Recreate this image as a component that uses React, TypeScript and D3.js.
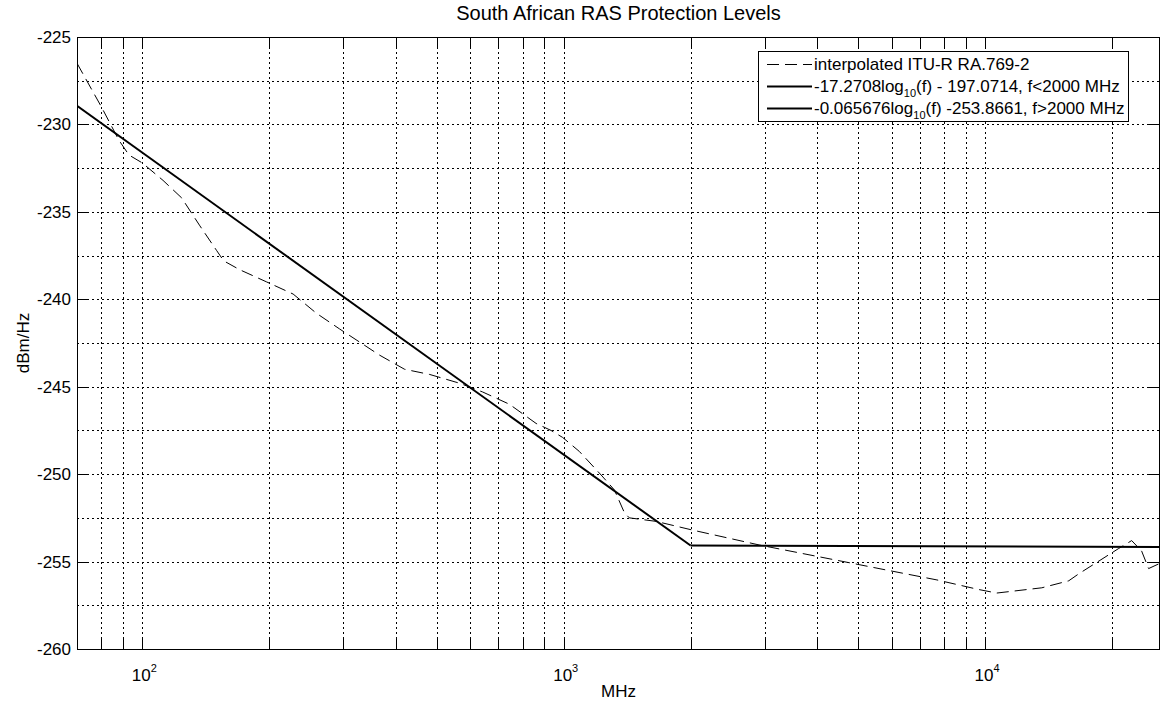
import React, { useEffect, useRef } from "react";
import * as d3 from "d3";

// interpolated ITU-R RA.769-2 curve
const ituFreq = [70, 80, 88, 93, 100, 112, 124, 137, 150, 156, 170, 197, 228, 259, 294, 366, 419, 481, 566, 642, 743, 860, 933, 994, 1089, 1227, 1319, 1393, 1431, 1656, 2022, 2909, 3618, 5600, 7685, 9661, 10660, 13630, 15790, 16680, 20750, 22270, 23520, 24430, 26000];
const ituLevel = [-226.5, -229.0, -230.9, -231.75, -232.2, -233.2, -234.2, -235.8, -237.2, -237.8, -238.3, -239.0, -239.7, -240.8, -241.7, -243.2, -244.0, -244.3, -244.8, -245.3, -246.0, -247.1, -247.5, -247.9, -248.7, -250.05, -250.9, -252.2, -252.5, -252.7, -253.2, -254.05, -254.5, -255.4, -256.05, -256.6, -256.8, -256.5, -256.1, -255.7, -254.25, -253.8, -254.4, -255.4, -255.1];

// the two fitted lines
const lowFreq = [70, 2000];
const lowLevel = [-228.94, -254.08];
const highFreq = [2000, 26000];
const highLevel = [-254.08, -254.16];

const yTicks = [-225, -230, -235, -240, -245, -250, -255, -260];
const yGrid = [-227.5, -230, -232.5, -235, -237.5, -240, -242.5, -245, -247.5, -250, -252.5, -255, -257.5];
const xMajor = [100, 1000, 10000];
const xExp = ["2", "3", "4"];
const xMinor = [70, 80, 90, 200, 300, 400, 500, 600, 700, 800, 900, 2000, 3000, 4000, 5000, 6000, 7000, 8000, 9000, 20000];

const legendItems = [
    { pre: "interpolated ITU-R RA.769-2", sub: "", post: "", dash: "12,6", width: 1 },
    { pre: "-17.2708log", sub: "10", post: "(f) - 197.0714, f<2000 MHz", dash: null, width: 2 },
    { pre: "-0.065676log", sub: "10", post: "(f) -253.8661, f>2000 MHz", dash: null, width: 2 },
];

const FONT = "'Liberation Sans', Arial, Helvetica, sans-serif";
const FS = 17;

const App = () => {
    const ref = useRef<SVGSVGElement>(null);

    useEffect(() => {
        const svg = d3.select(ref.current);
        svg.selectAll("*").remove();

        const left = 77, top = 37, right = 1160, bottom = 649;
        const x = d3.scaleLog().domain([70, 26000]).range([left, right]);
        const y = d3.scaleLinear().domain([-260, -225]).range([bottom, top]);
        const px = (v: number) => Math.round(v) + 0.5;

        svg.append("rect").attr("width", 1161).attr("height", 703).attr("fill", "#fff");

        // grid
        const grid = svg.append("g").attr("stroke", "#000").attr("stroke-width", 1)
            .attr("stroke-dasharray", "2,3");
        grid.selectAll("line.gx")
            .data([...xMinor, ...xMajor])
            .enter().append("line")
            .attr("x1", d => px(x(d))).attr("x2", d => px(x(d)))
            .attr("y1", top).attr("y2", bottom);
        grid.selectAll("line.gy")
            .data(yGrid)
            .enter().append("line")
            .attr("x1", left).attr("x2", right)
            .attr("y1", d => px(y(d))).attr("y2", d => px(y(d)));

        // ticks
        const tl = 11;
        const ticks = svg.append("g").attr("stroke", "#000").attr("stroke-width", 1);
        [...xMinor, ...xMajor].forEach(d => {
            ticks.append("line").attr("x1", px(x(d))).attr("x2", px(x(d)))
                .attr("y1", bottom).attr("y2", bottom - tl);
            ticks.append("line").attr("x1", px(x(d))).attr("x2", px(x(d)))
                .attr("y1", top).attr("y2", top + tl);
        });
        yTicks.forEach(d => {
            ticks.append("line").attr("x1", left).attr("x2", left + tl)
                .attr("y1", px(y(d))).attr("y2", px(y(d)));
            ticks.append("line").attr("x1", right - tl).attr("x2", right)
                .attr("y1", px(y(d))).attr("y2", px(y(d)));
        });

        // data
        svg.append("clipPath").attr("id", "plotclip")
            .append("rect").attr("x", left).attr("y", top)
            .attr("width", right - left).attr("height", bottom - top);
        const plot = svg.append("g").attr("clip-path", "url(#plotclip)");
        const line = d3.line<[number, number]>().x(d => x(d[0])).y(d => y(d[1]));

        plot.append("path")
            .datum(ituFreq.map((f, i) => [f, ituLevel[i]] as [number, number]))
            .attr("d", line)
            .attr("fill", "none").attr("stroke", "#000").attr("stroke-width", 1)
            .attr("stroke-dasharray", "12,6");
        plot.append("path")
            .datum(lowFreq.map((f, i) => [f, lowLevel[i]] as [number, number]))
            .attr("d", line)
            .attr("fill", "none").attr("stroke", "#000").attr("stroke-width", 2);
        plot.append("path")
            .datum(highFreq.map((f, i) => [f, highLevel[i]] as [number, number]))
            .attr("d", line)
            .attr("fill", "none").attr("stroke", "#000").attr("stroke-width", 2);

        // axes box
        svg.append("rect")
            .attr("x", left + 0.5).attr("y", top + 0.5)
            .attr("width", right - left - 1).attr("height", bottom - top)
            .attr("fill", "none").attr("stroke", "#000").attr("stroke-width", 1);

        // tick labels
        const labels = svg.append("g").attr("font-family", FONT).attr("fill", "#000");
        labels.selectAll("text.yl")
            .data(yTicks)
            .enter().append("text")
            .attr("x", 71).attr("y", d => y(d) + 6)
            .attr("text-anchor", "end").attr("font-size", FS)
            .text(d => String(d));
        xMajor.forEach((d, i) => {
            const t = labels.append("text")
                .attr("x", x(d) + 2).attr("y", 681)
                .attr("text-anchor", "middle").attr("font-size", FS);
            t.append("tspan").text("10");
            t.append("tspan").attr("dy", -9).attr("font-size", 11).text(xExp[i]);
        });

        // titles
        labels.append("text")
            .attr("x", (left + right) / 2).attr("y", 20)
            .attr("text-anchor", "middle").attr("font-size", 20)
            .text("South African RAS Protection Levels");
        labels.append("text")
            .attr("x", (left + right) / 2).attr("y", 697)
            .attr("text-anchor", "middle").attr("font-size", FS)
            .text("MHz");
        labels.append("text")
            .attr("transform", `translate(29,${(top + bottom) / 2}) rotate(-90)`)
            .attr("text-anchor", "middle").attr("font-size", FS)
            .text("dBm/Hz");

        // legend
        const lg = svg.append("g").attr("font-family", FONT);
        lg.append("rect")
            .attr("x", 758.5).attr("y", 51.5).attr("width", 370).attr("height", 70)
            .attr("fill", "#fff").attr("stroke", "#000").attr("stroke-width", 1);
        legendItems.forEach((item, i) => {
            const cy = 64 + i * 22;
            lg.append("line")
                .attr("x1", 767).attr("x2", 812).attr("y1", cy + 0.5).attr("y2", cy + 0.5)
                .attr("stroke", "#000").attr("stroke-width", item.width)
                .attr("stroke-dasharray", item.dash);
            const t = lg.append("text")
                .attr("x", 814).attr("y", cy + 6).attr("font-size", FS).attr("fill", "#000");
            t.append("tspan").text(item.pre);
            if (item.sub) {
                t.append("tspan").attr("dy", 5).attr("font-size", 11).text(item.sub);
                t.append("tspan").attr("dy", -5).text(item.post);
            }
        });
    }, []);

    return (
        <svg ref={ref} width={1161} height={703}
            style={{ position: "absolute", left: 0, top: 0, display: "block" }} />
    );
};

export default App;
